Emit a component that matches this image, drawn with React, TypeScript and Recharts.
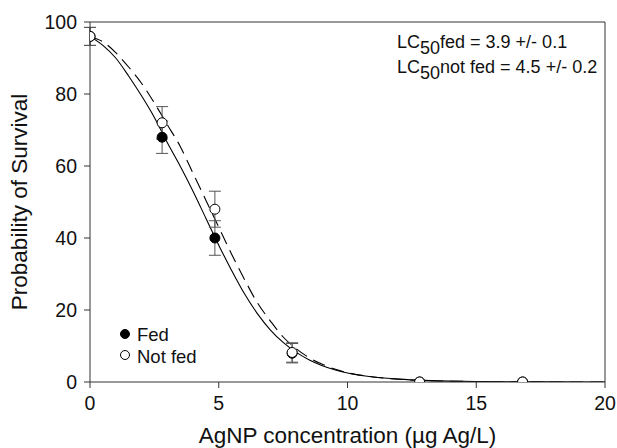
import React from 'react';
import {
  ComposedChart,
  Line,
  Scatter,
  XAxis,
  YAxis,
  ErrorBar,
  ReferenceLine,
  Legend,
  Label,
} from 'recharts';

// Fitted curves
const curveX = [0, 0.5, 1, 1.5, 2, 2.5, 3, 3.5, 4, 4.5, 5, 5.5, 6, 6.5, 7, 7.5, 8, 8.5, 9, 9.5, 10, 11, 12, 13, 14, 15, 16, 18, 20];
const fedCurve = [96, 93.5, 90, 85, 79.5, 73.5, 66.5, 60, 53, 45.5, 38, 31, 24.5, 19, 14.5, 11, 8.3, 6.2, 4.6, 3.4, 2.5, 1.4, 0.8, 0.45, 0.25, 0.15, 0.08, 0.03, 0.01];
const notFedCurve = [96, 94.5, 91.5, 87.5, 83, 77.5, 71.5, 65.5, 58, 50.5, 43, 35.5, 28.5, 22, 17, 12.5, 9.3, 6.8, 5, 3.6, 2.6, 1.4, 0.75, 0.4, 0.22, 0.12, 0.07, 0.02, 0.01];

// Observed points
const pointX = [0, 2.8, 4.85, 7.85, 12.8, 16.8];
const fedY = [96, 68, 40, 8, 0, 0];
const fedErr = [2.5, 4.5, 4.8, 2.7, 0, 0];
const notFedY = [96, 72, 48, 8.2, 0, 0];
const notFedErr = [2.5, 4.5, 5, 2.7, 0, 0];

const xTicks = [0, 5, 10, 15, 20];
const yTicks = [0, 20, 40, 60, 80, 100];

const FONT = '"Liberation Sans", Arial, Helvetica, sans-serif';

const curveData = curveX.map((x, i) => ({ x, fed: fedCurve[i], notFed: notFedCurve[i] }));
const fedData = pointX.map((x, i) => ({ x, y: fedY[i], err: fedErr[i] }));
const notFedData = pointX.map((x, i) => ({ x, y: notFedY[i], err: notFedErr[i] }));

const FilledDot = (p: any) => (
  <circle cx={p.cx} cy={p.cy} r={5} fill="#000" stroke="#000" strokeWidth={1} />
);
const OpenDot = (p: any) => (
  <circle cx={p.cx} cy={p.cy} r={5} fill="#fff" stroke="#000" strokeWidth={1} />
);

const LegendContent = () => (
  <svg width={120} height={50} style={{ display: 'block', overflow: 'visible' }}>
    <circle cx={7} cy={12} r={4.5} fill="#000" stroke="#000" />
    <text x={19} y={18.5} fontSize={18.5} fontFamily={FONT} fill="#111">Fed</text>
    <circle cx={7} cy={33} r={4.5} fill="#fff" stroke="#000" />
    <text x={19} y={41.3} fontSize={18.5} fontFamily={FONT} fill="#111">Not fed</text>
  </svg>
);

const YTitle = (props: any) => {
  const vb = props.viewBox || {};
  const cy = (vb.y ?? 22) + (vb.height ?? 360) / 2;
  const cx = 27;
  return (
    <text
      x={cx}
      y={cy}
      transform={`rotate(-90 ${cx} ${cy})`}
      textAnchor="middle"
      fontSize={22.5}
      fontFamily={FONT}
      fill="#111"
    >
      Probability of Survival
    </text>
  );
};

export default function App() {
  return (
    <div style={{ position: 'relative', width: 617, height: 448, background: '#fff' }}>
      <style>{'body{margin:0;}'}</style>
      <ComposedChart
        width={617}
        height={448}
        data={curveData}
        margin={{ top: 22, right: 12, bottom: 0, left: 0 }}
      >
        <XAxis
          type="number"
          dataKey="x"
          domain={[0, 20]}
          ticks={xTicks}
          height={66}
          tickSize={6}
          tickMargin={8}
          stroke="#333"
          tick={{ fill: '#111', fontSize: 19.5, fontFamily: FONT }}
          allowDataOverflow
        >
          <Label
            value="AgNP concentration (µg Ag/L)"
            position="insideBottom"
            offset={5}
            style={{ fontSize: 22.5, fontFamily: FONT, fill: '#111' }}
          />
        </XAxis>
        <YAxis
          type="number"
          domain={[0, 100]}
          ticks={yTicks}
          width={90}
          tickSize={6}
          tickMargin={7}
          stroke="#333"
          tick={{ fill: '#111', fontSize: 19.5, fontFamily: FONT }}
          allowDataOverflow
        >
          <Label content={<YTitle />} />
        </YAxis>
        <ReferenceLine y={100} stroke="#333" strokeWidth={1} />
        <ReferenceLine x={20} stroke="#333" strokeWidth={1} />
        <Line
          type="monotone"
          dataKey="fed"
          stroke="#000"
          strokeWidth={1.1}
          dot={false}
          activeDot={false}
          isAnimationActive={false}
        />
        <Line
          type="monotone"
          dataKey="notFed"
          stroke="#000"
          strokeWidth={1.1}
          strokeDasharray="13 7"
          dot={false}
          activeDot={false}
          isAnimationActive={false}
        />
        <Scatter data={fedData} dataKey="y" shape={FilledDot} isAnimationActive={false}>
          <ErrorBar dataKey="err" direction="y" width={6} stroke="#555" strokeWidth={1} />
        </Scatter>
        <Scatter data={notFedData} dataKey="y" shape={OpenDot} isAnimationActive={false}>
          <ErrorBar dataKey="err" direction="y" width={6} stroke="#555" strokeWidth={1} />
        </Scatter>
        <Legend
          layout="vertical"
          align="center"
          verticalAlign="middle"
          wrapperStyle={{ left: 118, top: 322, width: 120, height: 50 }}
          content={<LegendContent />}
        />
      </ComposedChart>
      <svg
        width={617}
        height={448}
        style={{ position: 'absolute', left: 0, top: 0, pointerEvents: 'none' }}
      >
        <text x={397} y={48.3} fontSize={18} fontFamily={FONT} fill="#111">
          LC<tspan dy={6}>50</tspan>
          <tspan dy={-6}>fed = 3.9 +/- 0.1</tspan>
        </text>
        <text x={397} y={72.7} fontSize={18} fontFamily={FONT} fill="#111">
          LC<tspan dy={6}>50</tspan>
          <tspan dy={-6}>not fed = 4.5 +/- 0.2</tspan>
        </text>
      </svg>
    </div>
  );
}
